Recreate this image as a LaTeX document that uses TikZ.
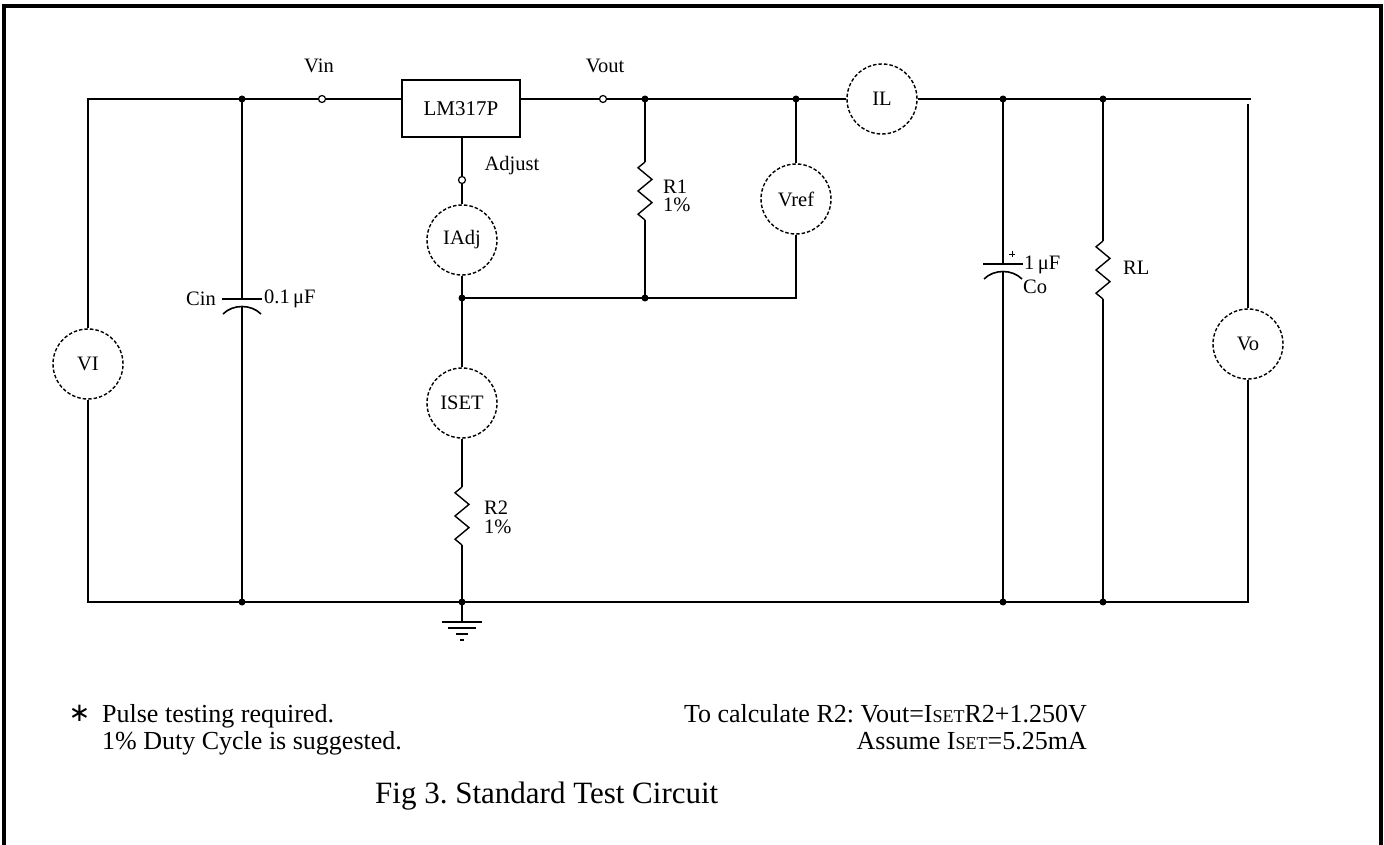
\documentclass[tikz,border=0pt]{standalone}
\usepackage{fontspec}
\setmainfont{Liberation Serif}
\newfontfamily\symfont{DejaVu Sans}
\frenchspacing
\newcommand\labsize{\fontsize{20.5}{22}\selectfont}
\newcommand\txtsize{\fontsize{26}{28}\selectfont}
\newcommand\figsize{\fontsize{31}{33}\selectfont}
\newcommand\smc[1]{{\fontsize{18}{18}\selectfont #1}}
\begin{document}
\begin{tikzpicture}[x=1pt,y=-1pt,
  wire/.style={line width=2pt},
  meter/.style={circle, draw, line width=1.4pt, dash pattern=on 3.5pt off 2pt, minimum size=70pt, inner sep=0pt, font=\labsize},
  term/.style={circle, draw, fill=white, line width=1.2pt, minimum size=7pt, inner sep=0pt},
  lab/.style={font=\labsize, inner sep=0pt},
  txt/.style={font=\txtsize, inner sep=0pt},
  res/.pic={\draw[line width=1.4pt, line join=miter] (0,0) -- ++(-7,5.8) -- ++(14,11.6) -- ++(-14,11.6) -- ++(14,11.6) -- ++(-14,11.6) -- ++(7,5.8);},
  cap/.pic={\draw[line width=2pt] (-20,0) -- (20,0);
            \draw[line width=1.6pt] (-19,15) .. controls (-9,5) and (9,5) .. (19,15);},
  jdot/.style={circle, fill, minimum size=7pt, inner sep=0pt}
]
\useasboundingbox (0,0) rectangle (1384,845);
\fill[white] (0,0) rectangle (1384,845);
% frame
\draw[line width=4pt] (3.5,850) -- (3.5,6.5) -- (1381,6.5) -- (1381,850);

% meters
\node[meter] (VI)   at (88,364)  {VI};
\node[meter] (IAdj) at (462,240) {IAdj};
\node[meter] (ISET) at (462,403) {ISET};
\node[meter] (Vref) at (796,199) {Vref};
\node[meter] (IL)   at (882,99)  {IL};
\node[meter] (Vo)   at (1248,344) {Vo};

% regulator
\node[draw, line width=1.6pt, minimum width=118pt, minimum height=57pt, inner sep=0pt, font=\fontsize{21}{22}\selectfont] (reg) at (461,108.5) {LM317P};

% terminals
\node[term] (tin)  at (322,99)  {};
\node[term] (tout) at (603,99)  {};
\node[term] (tadj) at (462,180) {};

% coordinates
\coordinate (tl) at (88,99);
\coordinate (bl) at (88,602);
\coordinate (jcin) at (242,99);
\coordinate (jcinb) at (242,602);
\coordinate (jr1) at (645,99);
\coordinate (jr1b) at (645,298);
\coordinate (jvref) at (796,99);
\coordinate (jvrefb) at (796,298);
\coordinate (jadj) at (462,298);
\coordinate (jco) at (1003,99);
\coordinate (jcob) at (1003,602);
\coordinate (jrl) at (1103,99);
\coordinate (jrlb) at (1103,602);
\coordinate (tr) at (1251,99);
\coordinate (votop) at (1248,104);
\coordinate (br) at (1248,602);
\coordinate (gnd) at (462,602);
\coordinate (gndt) at (462,622);
% component ends
\coordinate (cinT) at (242,299);
\coordinate (cinB) at (242,306);
\coordinate (coT) at (1003,264);
\coordinate (coB) at (1003,271);
\coordinate (r1T) at (645,162);
\coordinate (r1B) at (645,220);
\coordinate (r2T) at (462,487);
\coordinate (r2B) at (462,545);
\coordinate (rlT) at (1103,241);
\coordinate (rlB) at (1103,299);

% wires
\draw[wire] (VI.north) -- (tl) -- (tin.west);
\draw[wire] (tin.east) -- (reg.west |- tin);
\draw[wire] (reg.east |- tout) -- (tout.west);
\draw[wire] (tout.east) -- (IL.west);
\draw[wire] (IL.east) -- (tr);
\draw[wire] (VI.south) -- (bl) -- (br) -- (Vo.south);
\draw[wire] (votop) -- (Vo.north);
\draw[wire] (jcin) -- (cinT);
\draw[wire] (cinB) -- (jcinb);
\draw[wire] (jco) -- (coT);
\draw[wire] (coB) -- (jcob);
\draw[wire] (jrl) -- (rlT);
\draw[wire] (rlB) -- (jrlb);
\draw[wire] (jr1) -- (r1T);
\draw[wire] (r1B) -- (jr1b);
\draw[wire] (jvref) -- (Vref.north);
\draw[wire] (Vref.south) -- (jvrefb) -- (jadj);
\draw[wire] (reg.south -| tadj) -- (tadj.north);
\draw[wire] (tadj.south) -- (IAdj.north);
\draw[wire] (IAdj.south) -- (ISET.north);
\draw[wire] (ISET.south) -- (r2T);
\draw[wire] (r2B) -- (gnd) -- (gndt);

% components
\pic at (r1T) {res};
\pic at (r2T) {res};
\pic at (rlT) {res};
\pic at (cinT) {cap};
\pic at (coT) {cap};
\draw[line width=1pt] (1009,254) -- (1015,254) (1012,251) -- (1012,257);

% ground
\draw[line width=2pt] (442,622) -- (482,622)
  (448,628) -- (476,628)
  (456,634) -- (468,634)
  (460,640) -- (464,640);

% junction dots
\foreach \p in {jcin,jcinb,jr1,jr1b,jvref,jadj,jco,jcob,jrl,jrlb,gnd}
  \node[jdot] at (\p) {};

% labels
\node[lab] (lvin) at (319,66) {Vin};
\node[lab] (lvout) at (605,66) {Vout};
\node[lab] (ladj) at (512,166) {Adjust};
\node[lab, anchor=west] (lr1) at (663,187) {R1};
\node[lab, anchor=west] (lr1p) at (663,205) {1\%};
\node[lab, anchor=west] (lr2) at (484,508) {R2};
\node[lab, anchor=west] (lr2p) at (484,527) {1\%};
\node[lab, anchor=east] (lcin) at (216,299) {Cin};
\node[lab, anchor=west] (lcinv) at (264,299) {0.1\,μF};
\node[lab, anchor=west] (lcov) at (1024,265) {1\,μF};
\node[lab, anchor=west] (lco) at (1023,287) {Co};
\node[lab, anchor=west] (lrl) at (1123,268) {RL};

% notes
\node[inner sep=0pt, font=\symfont\fontsize{26}{26}\selectfont] (ast) at (79.5,713) {∗};
\node[txt, anchor=base west] (n1) at (102,722) {Pulse testing required.};
\node[txt, anchor=base west] (n2) at (102,749) {1\% Duty Cycle is suggested.};
\node[txt, anchor=base east] (n3) at (1087,722) {To calculate R2: Vout=I\smc{SET}R2+1.250V};
\node[txt, anchor=base east] (n4) at (1087,749) {Assume I\smc{SET}=5.25mA};
\node[anchor=base west, inner sep=0pt, font=\figsize] (fig) at (375,803) {Fig 3. Standard Test Circuit};
\end{tikzpicture}
\end{document}
